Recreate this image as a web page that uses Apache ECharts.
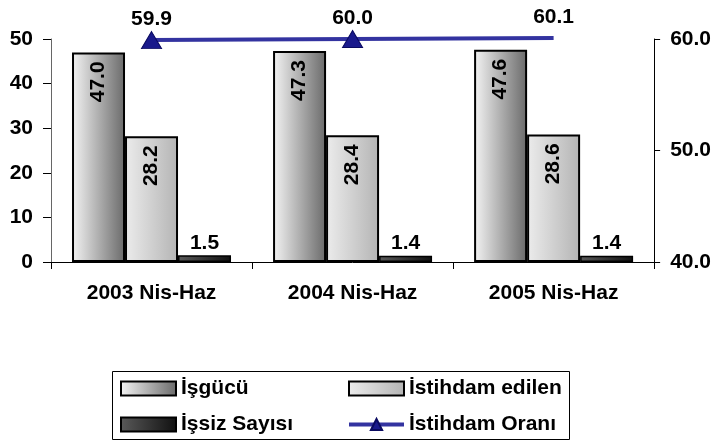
<!DOCTYPE html>
<html>
<head>
<meta charset="utf-8">
<script src="https://cdn.jsdelivr.net/npm/echarts@6/dist/echarts.min.js"></script>
<style>
  html, body { margin: 0; padding: 0; background: #fff; }
  #chart { width: 714px; height: 444px; }
</style>
</head>
<body>
<div id="chart"></div>
<script>
const categories = ['2003 Nis-Haz', '2004 Nis-Haz', '2005 Nis-Haz'];
const isgucu = [47.0, 47.3, 47.6];
const istihdamEdilen = [28.2, 28.4, 28.6];
const issizSayisi = [1.5, 1.4, 1.4];
const istihdamOrani = [59.9, 60.0, 60.1];
const leftTicks = { min: 0, max: 50, interval: 10 };
const rightTicks = { min: 40, max: 60, interval: 10 };

const FONT = 'Liberation Sans, Arial, sans-serif';
const chart = echarts.init(document.getElementById('chart'));

function grad(from, to) {
  return new echarts.graphic.LinearGradient(0, 0, 1, 0, [
    { offset: 0, color: from },
    { offset: 1, color: to },
  ]);
}

const boldText = { fontFamily: FONT, fontWeight: 'bold', fontSize: 21, color: '#000' };

// Excel leaves the marker off when the point sits above the axis max (label stays)
const rateData = istihdamOrani.map(v => v > rightTicks.max
  ? { value: v, itemStyle: { color: 'transparent', borderColor: 'transparent' } }
  : v);

const rotatedLabel = {
  show: true,
  position: ['50%', 9],
  rotate: 90,
  align: 'right',
  verticalAlign: 'middle',
  formatter: p => p.value.toFixed(1),
  ...boldText,
};

const legendBase = {
  top: 378, orient: 'vertical', padding: 0,
  itemWidth: 55, itemHeight: 14, itemGap: 15,
  textStyle: { ...boldText },
};

chart.setOption({
  animation: false,
  grid: { left: 51, right: 57, top: 39, bottom: 182 },
  legend: [
    {
      ...legendBase, left: 120,
      data: [{ name: 'İşgücü', icon: 'rect' }, { name: 'İşsiz Sayısı', icon: 'rect' }],
    },
    {
      ...legendBase, left: 347,
      data: [
        { name: 'İstihdam edilen', icon: 'rect' },
        { name: 'İstihdam Oranı', lineStyle: { width: 4 } },
      ],
    },
  ],
  graphic: [{
    type: 'rect',
    shape: { x: 112.5, y: 371.5, width: 457, height: 68 },
    style: { fill: 'none', stroke: '#000', lineWidth: 1 },
    z: 0,
  }],
  xAxis: {
    type: 'category',
    data: categories,
    axisLine: { lineStyle: { color: '#000', width: 1 } },
    axisTick: { show: true, length: 7, lineStyle: { color: '#000' } },
    axisLabel: { ...boldText, margin: 21 },
  },
  yAxis: [
    {
      type: 'value', ...leftTicks,
      axisLine: { show: true, lineStyle: { color: '#666' } },
      axisTick: { show: true, length: 8, lineStyle: { color: '#000' } },
      splitLine: { show: false },
      axisLabel: { ...boldText, margin: 18 },
    },
    {
      type: 'value', ...rightTicks,
      axisLine: { show: true, lineStyle: { color: '#000' } },
      axisTick: { show: true, length: 6, lineStyle: { color: '#000' } },
      splitLine: { show: false },
      axisLabel: { ...boldText, margin: 16, formatter: v => v.toFixed(1) },
    },
  ],
  series: [
    {
      name: 'İşgücü', type: 'bar', data: isgucu,
      barWidth: 53, barGap: '0%',
      itemStyle: { color: grad('#f4f4f4', '#6a6a6a'), borderColor: '#000', borderWidth: 2 },
      label: rotatedLabel,
    },
    {
      name: 'İstihdam edilen', type: 'bar', data: istihdamEdilen,
      barWidth: 53, barGap: '0%',
      itemStyle: { color: grad('#ececec', '#b4b4b4'), borderColor: '#000', borderWidth: 2 },
      label: rotatedLabel,
    },
    {
      name: 'İşsiz Sayısı', type: 'bar', data: issizSayisi,
      barWidth: 53, barGap: '0%',
      itemStyle: { color: grad('#5a5a5a', '#101010'), borderColor: '#000', borderWidth: 1.5 },
      label: { show: true, position: 'top', distance: 2, formatter: p => p.value.toFixed(1), ...boldText },
    },
    {
      name: 'İstihdam Oranı', type: 'line', yAxisIndex: 1, data: rateData,
      clip: false,
      symbol: 'triangle', symbolSize: [20, 17],
      lineStyle: { color: '#3333a0', width: 4 },
      itemStyle: { color: '#1a1a8c', borderColor: '#0a0a60', borderWidth: 1 },
      label: { show: true, position: 'top', distance: 1, formatter: p => p.value.toFixed(1), ...boldText },
      z: 5,
    },
  ],
});
</script>
</body>
</html>
